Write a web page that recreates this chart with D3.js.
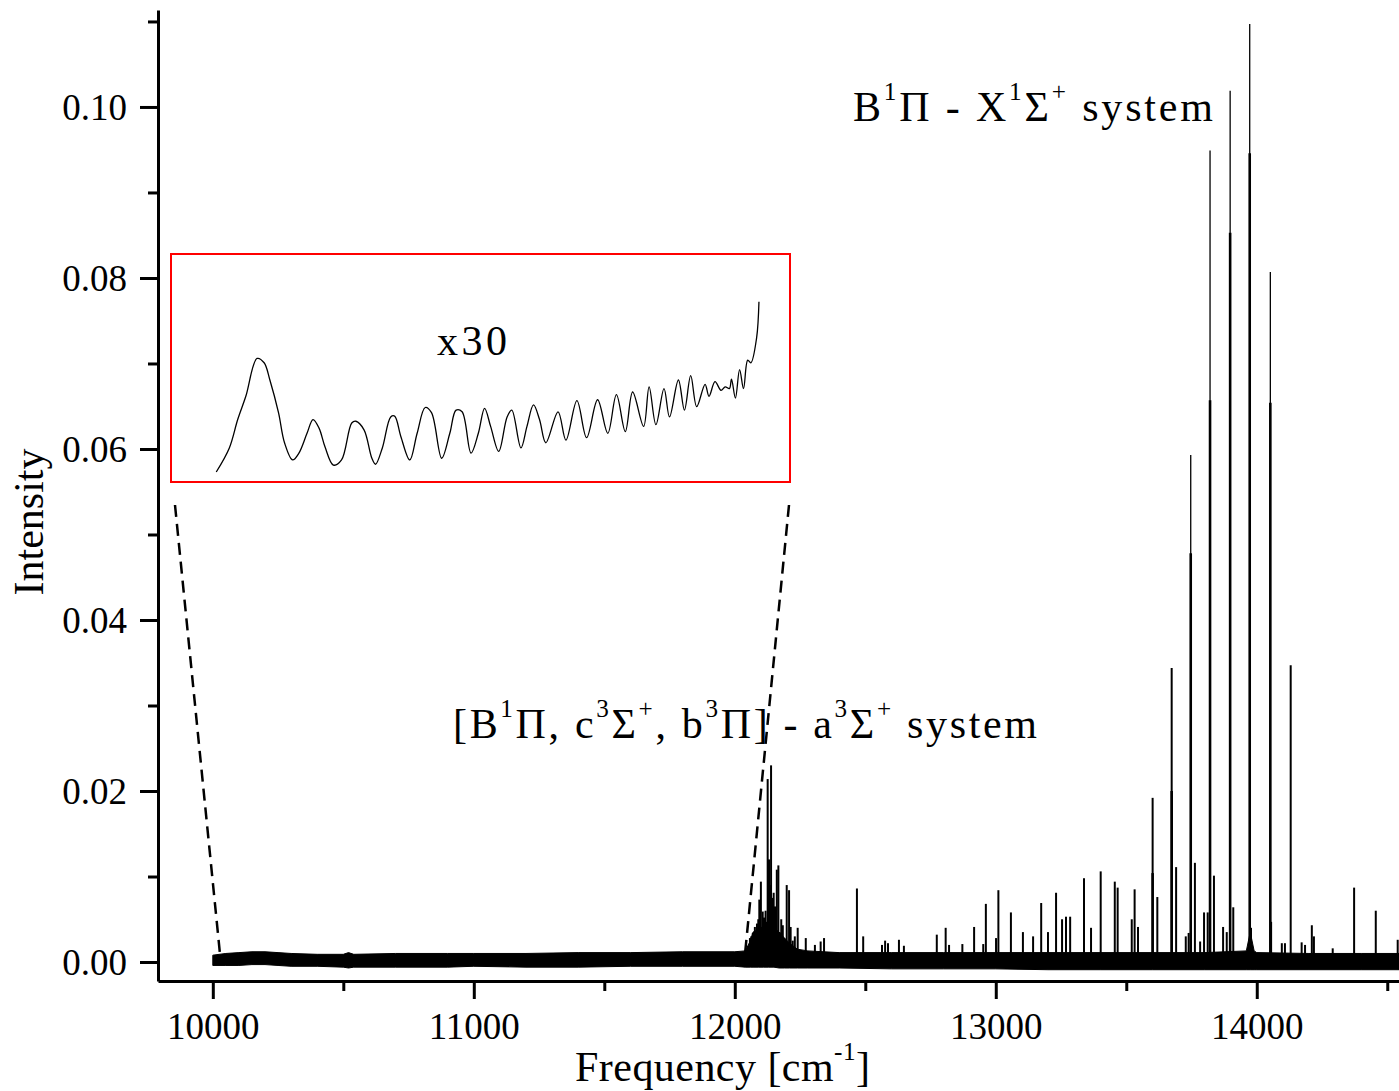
<!DOCTYPE html>
<html><head><meta charset="utf-8">
<script src="https://cdn.jsdelivr.net/npm/d3@7"></script>
<style>
body{margin:0;background:#fff;}
text{font-family:"Liberation Serif","Times New Roman",serif;fill:#000;}
</style></head>
<body><svg id="c" width="1399" height="1091"></svg>
<script>
// ---------- data ----------
const xTicksMajor = [10000, 11000, 12000, 13000, 14000];
const xTicksMinor = [10500, 11500, 12500, 13500, 14500];
const yTicksMajor = [0.00, 0.02, 0.04, 0.06, 0.08, 0.10];
const yTicksMinor = [0.01, 0.03, 0.05, 0.07, 0.09, 0.11];

// baseline noise envelope (min / max of the trace)
const baseFreq = [10000,10050,10100,10150,10200,10250,10300,10400,10500,10520,10540,10700,10900,11000,11200,11400,11600,11800,12000,12040,12060,12070,12090,12110,12130,12150,12170,12190,12210,12240,12280,12400,12600,12800,13000,13200,13400,13600,13800,13960,13975,13990,14000,14200,14400,14545];
const baseHigh = [0.0008,0.0010,0.0011,0.0012,0.0012,0.0011,0.0010,0.0009,0.0009,0.0011,0.0009,0.0010,0.0010,0.0010,0.0010,0.0011,0.0011,0.0012,0.0012,0.0013,0.0025,0.0035,0.0038,0.0042,0.0045,0.0040,0.0035,0.0028,0.0022,0.0015,0.0013,0.0011,0.0011,0.0011,0.0011,0.0011,0.0011,0.0011,0.0011,0.0013,0.0035,0.0013,0.0011,0.0010,0.0010,0.0010];
const baseLow  = [-0.0004,-0.0004,-0.0004,-0.0003,-0.0003,-0.0004,-0.0005,-0.0005,-0.0006,-0.0007,-0.0006,-0.0006,-0.0006,-0.0005,-0.0006,-0.0006,-0.0005,-0.0005,-0.0005,-0.0006,-0.0006,-0.0006,-0.0006,-0.0006,-0.0006,-0.0006,-0.0007,-0.0007,-0.0007,-0.0007,-0.0007,-0.0007,-0.0008,-0.0008,-0.0008,-0.0009,-0.0009,-0.0009,-0.0009,-0.0009,-0.0009,-0.0009,-0.0009,-0.0009,-0.0009,-0.0009];

// line peaks
const peakFreq = [12050,12058,12063,12069,12077,12085,12090,12094,12100,12107,12112,12118,12121,12126,12131,12135,12139,12143,12149,12154,12161,12167,12172,12178,12184,12190,12199,12208,12214,12222,12230,12241,12272,12307,12329,12342,
 12468,12492,12564,12576,12587,12629,12648,12774,12808,12821,12872,12917,12952,12962,13001,13010,
 13058,13104,13143,13174,13200,13231,13254,13269,13285,13338,13365,13402,13456,13467,13521,13532,13545,13601,13619,13674,13691,13728,13739,13747,13763,13783,13798,13812,13821,13836,13871,13885,13898,13910,13973,13978,14052,14055,14096,14108,14130,14172,14185,14211,14219,14291,14373,14456,14540];
const peakHeight = [0.0018,0.0028,0.0030,0.0034,0.0041,0.0045,0.0050,0.0073,0.0094,0.0059,0.0052,0.0060,0.0047,0.0214,0.0120,0.0090,0.0230,0.0075,0.0081,0.0065,0.0108,0.0113,0.0035,0.0050,0.0043,0.0028,0.0090,0.0084,0.0041,0.0025,0.0030,0.0040,0.0028,0.0020,0.0024,0.0028,
 0.0086,0.0030,0.0020,0.0025,0.0022,0.0026,0.0019,0.0032,0.0040,0.0020,0.0021,0.0041,0.0021,0.0068,0.0028,0.0084,
 0.0058,0.0035,0.0030,0.0069,0.0035,0.0081,0.0050,0.0053,0.0053,0.0098,0.0040,0.0106,0.0094,0.0087,0.0050,0.0085,0.0041,0.0192,0.0076,0.0344,0.0111,0.0030,0.0034,0.0593,0.0116,0.0024,0.0058,0.0058,0.0949,0.0101,0.0041,0.0035,0.1019,0.0064,0.1097,0.0040,0.0807,0.0047,0.0022,0.0022,0.0347,0.0023,0.0020,0.0043,0.0030,0.0016,0.0087,0.0060,0.0026];
// strong B-X band heads: blended lower component
const blendFreq   = [13601,13674,13747,13821,13898,13973,14052];
const blendHeight = [0.0104,0.0200,0.0478,0.0657,0.0853,0.0946,0.0654];

// x30 magnified inset trace
const insetFreq = [10001,10051,10083,10114,10157,10184,10206,10239,10262,10293,10317,10348,10371,10394,10417,10449,10480,10519,10535,10566,10596,10610,10636,10668,10683,10707,10741,10769,10800,10824,10863,10894,10918,10941,10975,11003,11027,11050,11081,11113,11131,11166,11189,11214,11237,11261,11308,11338,11380,11417,11459,11498,11531,11565,11593,11635,11656,11682,11713,11734,11768,11791,11815,11838,11870,11885,11908,11931,11947,11963,11971,11986,12002,12017,12033,12045,12067,12076];
const insetVal = [0.0000,0.0028,0.0061,0.0088,0.0132,0.0127,0.0107,0.0069,0.0034,0.0014,0.0022,0.0045,0.0061,0.0051,0.0029,0.0008,0.0014,0.0057,0.0059,0.0049,0.0016,0.0009,0.0028,0.0064,0.0065,0.0041,0.0014,0.0045,0.0075,0.0069,0.0016,0.0045,0.0072,0.0070,0.0022,0.0045,0.0074,0.0053,0.0024,0.0064,0.0072,0.0028,0.0053,0.0078,0.0061,0.0034,0.0070,0.0037,0.0083,0.0040,0.0084,0.0045,0.0090,0.0047,0.0093,0.0053,0.0099,0.0055,0.0097,0.0064,0.0107,0.0072,0.0112,0.0076,0.0102,0.0088,0.0105,0.0095,0.0099,0.0097,0.0108,0.0086,0.0119,0.0097,0.0130,0.0127,0.0156,0.0198];

// ---------- chart ----------
const svg = d3.select("#c");
const x = d3.scaleLinear().domain([9790, 14545]).range([158, 1399]);
const y = d3.scaleLinear().domain([-0.00222, 0.11134]).range([981, 10]);

const xi = d3.scaleLinear().domain([10000, 12080]).range([216, 760]);
const yi = d3.scaleLinear().domain([0, 0.02]).range([472, 300]);

// baseline band
const area = d3.area().x((d,i)=>x(baseFreq[i])).y0((d,i)=>y(baseLow[i])).y1((d,i)=>y(baseHigh[i]));
svg.append("path").attr("d", area(baseFreq)).attr("fill","#000").attr("stroke","#000").attr("stroke-width",1);

// peaks
svg.append("g").selectAll("line").data(peakFreq).join("line")
  .attr("x1",(d)=>x(d)).attr("x2",(d)=>x(d))
  .attr("y1",y(0)).attr("y2",(d,i)=>y(peakHeight[i]))
  .attr("stroke","#000").attr("stroke-width",(d,i)=>peakHeight[i] > 0.04 ? 1.3 : 2);
svg.append("g").selectAll("line").data(blendFreq).join("line")
  .attr("x1",(d)=>x(d)).attr("x2",(d)=>x(d))
  .attr("y1",y(0)).attr("y2",(d,i)=>y(blendHeight[i]))
  .attr("stroke","#000").attr("stroke-width",2.6);

// axes
const ax = svg.append("g").attr("transform","translate(0,981)");
ax.call(d3.axisBottom(x).tickValues(xTicksMajor).tickSize(18).tickSizeOuter(0).tickPadding(36).tickFormat(d3.format("d")));
ax.append("g").call(d3.axisBottom(x).tickValues(xTicksMinor).tickSize(10).tickSizeOuter(0).tickFormat(""))
  .select(".domain").remove();
const ay = svg.append("g").attr("transform","translate(158,0)");
ay.call(d3.axisLeft(y).tickValues(yTicksMajor).tickSize(18).tickSizeOuter(0).tickPadding(13).tickFormat(d3.format(".2f")));
ay.append("g").call(d3.axisLeft(y).tickValues(yTicksMinor).tickSize(10).tickSizeOuter(0).tickFormat(""))
  .select(".domain").remove();
svg.selectAll(".domain").attr("stroke","#000").attr("stroke-width",3);
svg.selectAll(".tick line").attr("stroke","#000").attr("stroke-width",3);
svg.selectAll(".tick text").attr("font-family","Liberation Serif, Times New Roman, serif").attr("font-size",37).attr("fill","#000");
ax.selectAll(".tick text").attr("dy","0.71em").attr("y",32);
ay.selectAll(".tick text").attr("dy","0.34em");

// inset
svg.append("rect").attr("x",171).attr("y",254).attr("width",619).attr("height",228)
  .attr("fill","none").attr("stroke","#ff0000").attr("stroke-width",2);
const lineI = d3.line().curve(d3.curveCatmullRom.alpha(0.5)).x((d,i)=>xi(insetFreq[i])).y((d,i)=>yi(insetVal[i]));
svg.append("path").attr("d",lineI(insetFreq)).attr("fill","none").attr("stroke","#000").attr("stroke-width",1.3);

// connectors
svg.append("line").attr("x1",175).attr("y1",505).attr("x2",x(10028)).attr("y2",y(0.0008))
  .attr("stroke","#000").attr("stroke-width",2.5).attr("stroke-dasharray","12,7");
svg.append("line").attr("x1",789).attr("y1",505).attr("x2",x(12040)).attr("y2",y(0.0012))
  .attr("stroke","#000").attr("stroke-width",2.5).attr("stroke-dasharray","12,7");

// text helper
function rich(parent, x0, y0, size, segs, len){
  const t = parent.append("text").attr("x",x0).attr("y",y0).attr("font-size",size);
  if (len) t.attr("textLength",len).attr("lengthAdjust","spacing");
  let raised = false;
  segs.forEach(s=>{
    const sup = Array.isArray(s);
    const str = sup ? s[0] : s;
    const ts = t.append("tspan").text(str);
    if (sup && !raised){ ts.attr("dy",-size*0.5).attr("font-size",size*0.6); raised = true; }
    else if (sup){ ts.attr("font-size",size*0.6); }
    else if (raised){ ts.attr("dy",size*0.5); raised = false; }
  });
  return t;
}
rich(svg, 853, 121, 42, ["B",["1"],"Π - X",["1"],"Σ",["+"]," system"], 360);
rich(svg, 453, 738, 42, ["[B",["1"],"Π, c",["3"],"Σ",["+"],", b",["3"],"Π] - a",["3"],"Σ",["+"]," system"], 584);
svg.append("text").attr("x",437).attr("y",355).attr("font-size",42).attr("textLength",70).attr("lengthAdjust","spacing").text("x30");
rich(svg, 575, 1081, 42, ["Frequency [cm",["-1"],"]"], 295);
svg.append("text").attr("transform","translate(43,522) rotate(-90)").attr("text-anchor","middle").attr("font-size",42).text("Intensity");
</script></body></html>
